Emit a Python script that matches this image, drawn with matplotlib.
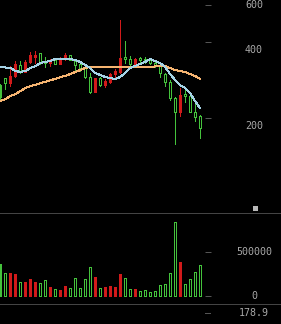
import matplotlib
matplotlib.use('Agg')
import matplotlib.pyplot as plt
from matplotlib.patches import Rectangle
from matplotlib.lines import Line2D
from matplotlib.ticker import NullLocator

# candles (red = up, green = down)
opens = [270.2, 288.0, 275.2, 293.4, 324.3, 304.3, 333.3, 348.9, 361.8, 336.4,
         330.3, 339.4, 327.3, 342.6, 355.3, 336.4, 327.3, 315.6, 290.7, 253.5,
         288.0, 270.2, 277.7, 298.8, 304.3, 348.9, 342.6, 327.3, 345.7, 342.6,
         339.4, 330.3, 321.4, 298.8, 277.7, 240.0, 211.3, 248.9, 244.4, 211.3,
         203.7]
closes = [242.2, 275.2, 293.4, 327.3, 304.3, 333.3, 355.3, 355.3, 330.3, 330.3,
          336.4, 327.3, 345.7, 355.3, 339.4, 324.3, 315.6, 290.7, 253.5, 288.0,
          270.2, 280.3, 298.8, 307.1, 345.7, 342.6, 327.3, 342.6, 339.4, 336.4,
          330.3, 321.4, 301.5, 277.7, 240.0, 211.3, 246.7, 244.4, 211.3, 201.8,
          182.6]
highs = [272.7, 288.0, 321.4, 336.4, 336.4, 339.4, 365.1, 368.5, 361.8, 348.9,
         342.6, 339.4, 348.9, 361.8, 355.3, 339.4, 333.3, 318.5, 301.5, 288.0,
         290.7, 285.4, 301.5, 312.7, 488.9, 403.7, 352.0, 345.7, 348.9, 348.9,
         342.6, 333.3, 324.3, 301.5, 282.8, 242.2, 262.9, 258.2, 251.2, 231.4,
         205.5]
lows = [237.8, 260.6, 267.8, 290.7, 301.5, 304.3, 330.3, 330.3, 327.3, 318.5,
        321.4, 327.3, 327.3, 339.4, 339.4, 304.3, 307.1, 288.0, 251.2, 253.5,
        267.8, 265.3, 275.2, 288.0, 301.5, 330.3, 318.5, 324.3, 333.3, 330.3,
        327.3, 318.5, 290.7, 267.8, 235.7, 157.8, 203.7, 231.4, 211.3, 194.6,
        166.7]
volumes = [360000, 258000, 258000, 246000, 155000, 155000, 189000, 155000, 144000, 178000,
           98000, 76000, 64000, 110000, 87000, 201000, 87000, 189000, 326000, 212000,
           87000, 98000, 110000, 98000, 246000, 201000, 76000, 76000, 53000, 64000,
           42000, 53000, 121000, 133000, 258000, 837000, 383000, 133000, 189000, 269000,
           349000]
ma_fast = [318.5, 317.0, 315.6, 307.1, 304.3, 307.1, 315.6, 321.4, 330.3, 333.3,
           336.4, 342.6, 342.6, 342.6, 342.6, 339.4, 333.3, 324.3, 315.6, 301.5,
           296.0, 290.7, 288.0, 285.4, 290.7, 301.5, 315.6, 321.4, 327.3, 333.3,
           342.6, 336.4, 330.3, 318.5, 298.8, 282.8, 270.2, 262.9, 251.2, 233.5,
           219.1]
ma_slow = [233.5, 237.8, 244.4, 248.9, 255.8, 262.9, 267.8, 270.2, 275.2, 277.7,
           282.8, 285.4, 290.7, 293.4, 298.8, 304.3, 309.9, 315.6, 318.5, 318.5,
           318.5, 318.5, 318.5, 318.5, 318.5, 318.5, 318.5, 318.5, 318.5, 318.5,
           318.5, 320.0, 321.4, 321.4, 315.6, 309.9, 307.1, 304.3, 298.8, 293.4,
           285.4]
price_ticks = [200, 400, 560]
price_labels = ['200', '400', '600']
vol_ticks = [0, 500000]
vol_labels = ['0', '500000']
last_label = '178.9'

GREEN = '#44c23c'
RED = '#d11a1a'
TXT = '#a8a8a8'
LW = 0.72  # one pixel at 100 dpi

plt.rcParams['lines.antialiased'] = False
plt.rcParams['patch.antialiased'] = False

W, H = 281, 324
fig = plt.figure(figsize=(W / 100, H / 100), dpi=100, facecolor='black')

def px_rect(l, t, r, b):
    return [l / W, 1 - b / H, (r - l) / W, (b - t) / H]

ax = fig.add_axes(px_rect(0, 0, 204.5, 213))
axv = fig.add_axes(px_rect(0, 213, 204.5, 304))

n = len(opens)
xs = list(range(n))
colors = [RED if c >= o else GREEN for o, c in zip(opens, closes)]

for i in xs:
    ax.vlines(i, lows[i], highs[i], color=colors[i], lw=LW, zorder=2)
    lo, hi = min(opens[i], closes[i]), max(opens[i], closes[i])
    face = colors[i] if colors[i] == RED else 'black'
    ax.add_patch(Rectangle((i - 0.2, lo), 0.4, hi - lo, facecolor=face,
                           edgecolor=colors[i], lw=LW, zorder=3))

ax.plot(xs, ma_slow, color='#f6b471', lw=LW, zorder=4)
ax.plot(xs, ma_fast, color='#a6d3e6', lw=LW, zorder=4)

ax.set_yscale('log')
ax.set_ylim(84.1, 586.7)
ax.set_xlim(-0.1, 40.9)

vfaces = [c if c == RED else 'black' for c in colors]
axv.bar(xs, volumes, width=0.4, facecolor=vfaces, edgecolor=colors, lw=LW)
axv.set_ylim(-90909, 943182)
axv.set_xlim(-0.1, 40.9)

for a, ticks, labels, offs in [(ax, price_ticks, price_labels, [-8, -8, 0]),
                               (axv, vol_ticks, vol_labels, [0, 0])]:
    a.set_facecolor('black')
    for s in a.spines.values():
        s.set_visible(False)
    a.set_xticks([])
    a.yaxis.tick_right()
    a.set_yticks(ticks)
    a.yaxis.set_minor_locator(NullLocator())
    a.set_yticklabels([])
    a.tick_params(axis='y', length=4, width=LW, color='#555555', right=True, left=False)
    for t, lab, dy in zip(ticks, labels, offs):
        a.annotate(lab, xy=(1, t), xycoords=('axes fraction', 'data'),
                   xytext=(49.5 * 0.72, dy * 0.72), textcoords='offset points',
                   ha='center', va='center', color=TXT, fontsize=7.2,
                   family='DejaVu Sans Mono', annotation_clip=False)

for yp in (213, 304):
    fig.add_artist(Line2D([0, 1], [1 - yp / H] * 2, transform=fig.transFigure,
                          color='#444444', lw=LW))
fig.add_artist(Line2D([205 / W, 210 / W], [1 - 313 / H] * 2, transform=fig.transFigure,
                      color='#555555', lw=LW))
fig.text(254 / W, 1 - 313 / H, last_label, ha='center', va='center', color=TXT,
         fontsize=7.2, family='DejaVu Sans Mono')
fig.add_artist(Rectangle((253 / W, 1 - 211 / H), 5 / W, 5 / H, transform=fig.transFigure,
                         facecolor='#b8b8b8', edgecolor='none'))

fig.savefig('out.png', dpi=100, facecolor='black')
